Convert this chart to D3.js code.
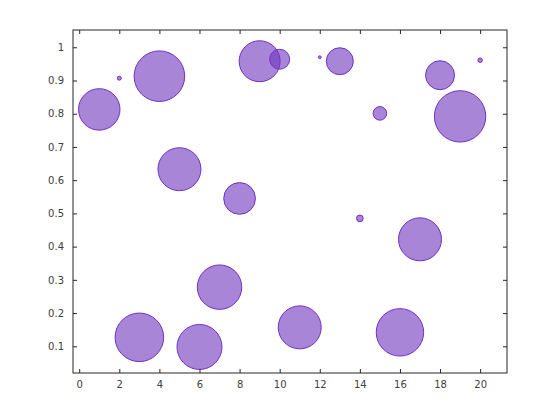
<!DOCTYPE html>
<html><head><meta charset="utf-8">
<script src="https://cdn.jsdelivr.net/npm/d3@7"></script>
<style>body{margin:0;background:#fff}svg{display:block}</style>
</head><body>
<script>
const xValues = [1,2,3,4,5,6,7,8,9,10,11,12,13,14,15,16,17,18,19,20];
const yValues = [0.813,0.907,0.127,0.913,0.633,0.098,0.278,0.545,0.958,0.964,0.157,0.970,0.958,0.485,0.801,0.142,0.422,0.916,0.792,0.961];
const sizes   = [430,4,590,640,462,506,494,252,420,100,462,2,182,11,46,562,462,210,660,5];
const xTicks = [0,2,4,6,8,10,12,14,16,18,20];
const yTicks = [0.1,0.2,0.3,0.4,0.5,0.6,0.7,0.8,0.9,1];

const W = 560, H = 420;
const mLeft = 73, mRight = 507, mTop = 30, mBottom = 373;
const svg = d3.select("body").append("svg").attr("width", W).attr("height", H);

const x = d3.scaleLinear().domain([-0.31, 21.34]).range([mLeft, mRight]);
const y = d3.scaleLinear().domain([0.0196, 1.052]).range([mBottom, mTop]);
const r = d3.scaleSqrt().domain([0, 1]).range([0, 1]);

const data = xValues.map((v, i) => ({x: v, y: yValues[i], s: sizes[i]}));

svg.append("g").selectAll("circle").data(data).join("circle")
  .attr("cx", d => x(d.x)).attr("cy", d => y(d.y)).attr("r", d => r(d.s))
  .attr("fill", "rgb(110,52,187)").attr("fill-opacity", 0.6)
  .attr("stroke", "rgb(112,48,200)").attr("stroke-width", 1);

const axColor = "#262626";
const fontFam = "DejaVu Sans, sans-serif";
function styleAxis(g, hideText) {
  g.select(".domain").remove();
  g.selectAll(".tick line").attr("stroke", axColor);
  g.selectAll(".tick text").attr("fill", "#404040").style("font-family", fontFam).style("font-size", "10px");
  if (hideText) g.selectAll(".tick text").remove();
}
svg.append("g").attr("transform", `translate(0,${mBottom})`)
  .call(d3.axisBottom(x).tickValues(xTicks).tickSize(-4).tickPadding(8).tickFormat(d3.format("d")))
  .call(g => styleAxis(g, false));
svg.append("g").attr("transform", `translate(0,${mTop})`)
  .call(d3.axisTop(x).tickValues(xTicks).tickSize(-4).tickFormat(""))
  .call(g => styleAxis(g, true));
svg.append("g").attr("transform", `translate(${mLeft},0)`)
  .call(d3.axisLeft(y).tickValues(yTicks).tickSize(-4).tickPadding(9).tickFormat(d => d === 1 ? "1" : d3.format(".1f")(d)))
  .call(g => styleAxis(g, false));
svg.append("g").attr("transform", `translate(${mRight},0)`)
  .call(d3.axisRight(y).tickValues(yTicks).tickSize(-4).tickFormat(""))
  .call(g => styleAxis(g, true));

svg.append("rect").attr("x", mLeft).attr("y", mTop).attr("width", mRight - mLeft).attr("height", mBottom - mTop)
  .attr("fill", "none").attr("stroke", axColor).attr("stroke-width", 1);
</script>
</body></html>
